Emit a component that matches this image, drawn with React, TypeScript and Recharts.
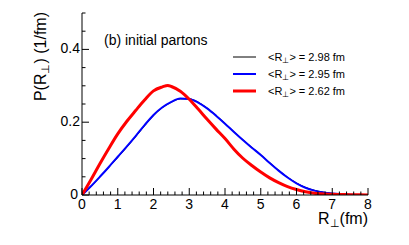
import React from "react";
import { LineChart, Line, XAxis, YAxis } from "recharts";

// R_perp grid (fm) for the two smooth curves
const rGrid = [0, 0.25, 0.5, 0.75, 1, 1.25, 1.5, 1.75, 2, 2.25, 2.5, 2.75, 3, 3.25, 3.5, 3.75, 4, 4.25, 4.5, 4.75, 5, 5.25, 5.5, 5.75, 6, 6.25, 6.5, 6.75, 7, 7.5, 8];
const blackP = [0, 0.023, 0.049, 0.076, 0.103, 0.131, 0.16, 0.19, 0.218, 0.24, 0.255, 0.264, 0.264, 0.255, 0.239, 0.219, 0.197, 0.174, 0.152, 0.131, 0.111, 0.089, 0.068, 0.049, 0.033, 0.021, 0.013, 0.008, 0.004, 0.001, 0];
const blueP = [0, 0.024, 0.05, 0.077, 0.105, 0.133, 0.162, 0.192, 0.22, 0.241, 0.256, 0.265, 0.264, 0.254, 0.238, 0.218, 0.196, 0.173, 0.151, 0.13, 0.11, 0.088, 0.067, 0.048, 0.032, 0.02, 0.012, 0.007, 0.004, 0.001, 0];

// red curve (initial partons, jagged)
const redR = [0, 0.25, 0.5, 0.75, 1, 1.25, 1.5, 1.75, 2, 2.25, 2.4, 2.5, 2.75, 3, 3.25, 3.5, 3.75, 4, 4.25, 4.5, 4.75, 5, 5.25, 5.5, 5.75, 6, 6.25, 6.5, 7, 7.5, 8];
const redP = [0, 0.042, 0.086, 0.128, 0.168, 0.202, 0.232, 0.261, 0.286, 0.297, 0.301, 0.298, 0.285, 0.263, 0.236, 0.208, 0.181, 0.155, 0.126, 0.101, 0.081, 0.063, 0.047, 0.034, 0.023, 0.015, 0.009, 0.005, 0.002, 0.001, 0];

const meanR = [2.98, 2.95, 2.62];
const seriesColors = ["#000000", "#0000ff", "#ff0000"];
const seriesWidths = [1, 2, 3];

const xMajor = [0, 1, 2, 3, 4, 5, 6, 7, 8];
const yMajor = [0, 0.2, 0.4];
const xMinorStep = 0.2;
const yMinorStep = 0.05;

const FONT = "'Liberation Sans', Arial, Helvetica, sans-serif";

const minorTicks = (max: number, step: number) =>
  Array.from({ length: Math.round(max / step) + 1 }, (_, i) => +(i * step).toFixed(3));

const xTicks = minorTicks(8, xMinorStep);
const yTicks = minorTicks(0.5, yMinorStep);

const isMajor = (v: number, majors: number[]) => majors.some((m) => Math.abs(m - v) < 1e-6);

const blackData = rGrid.map((r, i) => ({ r, p: blackP[i] }));
const blueData = rGrid.map((r, i) => ({ r, p: blueP[i] }));
const redData = redR.map((r, i) => ({ r, p: redP[i] }));

const BottomTick = ({ x, y, payload }: any) => {
  const major = isMajor(payload.value, xMajor);
  return (
    <g>
      <line x1={x} x2={x} y1={y} y2={y - (major ? 7 : 3.5)} stroke="#000" />
      {major && (
        <text x={x} y={y + 14} textAnchor="middle" fontSize={14} fontFamily={FONT} fill="#000">
          {payload.value}
        </text>
      )}
    </g>
  );
};

const TopTick = ({ x, y, payload }: any) => {
  const major = isMajor(payload.value, xMajor);
  return <line x1={x} x2={x} y1={y} y2={y + (major ? 7 : 3.5)} stroke="#000" />;
};

const LeftTick = ({ x, y, payload }: any) => {
  const major = isMajor(payload.value, yMajor);
  return (
    <g>
      <line x1={x} x2={x + (major ? 7 : 3.5)} y1={y} y2={y} stroke="#000" />
      {major && (
        <text x={x - (payload.value === 0 ? 4 : 2)} y={y + 4} textAnchor="end" fontSize={14} fontFamily={FONT} fill="#000">
          {payload.value}
        </text>
      )}
    </g>
  );
};

const RightTick = ({ x, y, payload }: any) => {
  const major = isMajor(payload.value, yMajor);
  return <line x1={x} x2={x - (major ? 7 : 3.5)} y1={y} y2={y} stroke="#000" />;
};

export default function App() {
  return (
    <div style={{ position: "absolute", left: 0, top: 0, width: 409, height: 245, background: "#fff", fontFamily: FONT }}>
      <LineChart width={409} height={245} margin={{ top: 13, right: 41, bottom: 0, left: 0 }}>
        <XAxis
          xAxisId={0}
          type="number"
          dataKey="r"
          domain={[0, 8]}
          ticks={xTicks}
          interval={0}
          tickSize={0}
          tickMargin={0}
          tick={<BottomTick />}
          axisLine={{ stroke: "#000" }}
          height={50}
          allowDataOverflow
        />
        <XAxis
          xAxisId="top"
          orientation="top"
          type="number"
          dataKey="r"
          domain={[0, 8]}
          ticks={xTicks}
          interval={0}
          tickSize={0}
          tickMargin={0}
          tick={<TopTick />}
          axisLine={{ stroke: "#000" }}
          height={0}
          allowDataOverflow
        />
        <YAxis
          yAxisId={0}
          type="number"
          domain={[0, 0.5]}
          ticks={yTicks}
          interval={0}
          tickSize={0}
          tickMargin={0}
          tick={<LeftTick />}
          axisLine={{ stroke: "#000" }}
          width={82}
          allowDataOverflow
        />
        <YAxis
          yAxisId="right"
          orientation="right"
          type="number"
          domain={[0, 0.5]}
          ticks={yTicks}
          interval={0}
          tickSize={0}
          tickMargin={0}
          tick={<RightTick />}
          axisLine={{ stroke: "#000" }}
          width={0}
          allowDataOverflow
        />
        <Line data={blackData} dataKey="p" type="monotone" stroke={seriesColors[0]} strokeWidth={seriesWidths[0]} dot={false} isAnimationActive={false} />
        <Line data={blueData} dataKey="p" type="monotone" stroke={seriesColors[1]} strokeWidth={seriesWidths[1]} dot={false} isAnimationActive={false} />
        <Line data={redData} dataKey="p" type="monotone" stroke={seriesColors[2]} strokeWidth={seriesWidths[2]} dot={false} isAnimationActive={false} strokeLinejoin="round" />
      </LineChart>

      <svg width={409} height={245} style={{ position: "absolute", left: 0, top: 0, pointerEvents: "none" }} fontFamily={FONT}>
        <text x={104} y={45} fontSize={14} fill="#000">(b) initial partons</text>

        {meanR.map((m, i) => (
          <g key={i}>
            <line x1={233} x2={256} y1={57 + i * 17} y2={57 + i * 17} stroke={seriesColors[i]} strokeWidth={seriesWidths[i]} />
            <text x={268} y={61 + i * 17} fontSize={11} fill="#000">
              {"<R"}
              <tspan fontSize={8} dy={2}>⊥</tspan>
              <tspan dy={-2}>{">  = " + m.toFixed(2) + " fm"}</tspan>
            </text>
          </g>
        ))}

        <text transform="translate(46,12) rotate(-90)" textAnchor="end" fontSize={16} fill="#000">
          P(R<tspan fontSize={11} dy={3}>⊥</tspan><tspan dy={-3}>) (1/fm)</tspan>
        </text>

        <text x={368} y={224} textAnchor="end" fontSize={16} fill="#000">
          R<tspan fontSize={11} dy={3}>⊥</tspan><tspan dy={-3}>(fm)</tspan>
        </text>
      </svg>
    </div>
  );
}
